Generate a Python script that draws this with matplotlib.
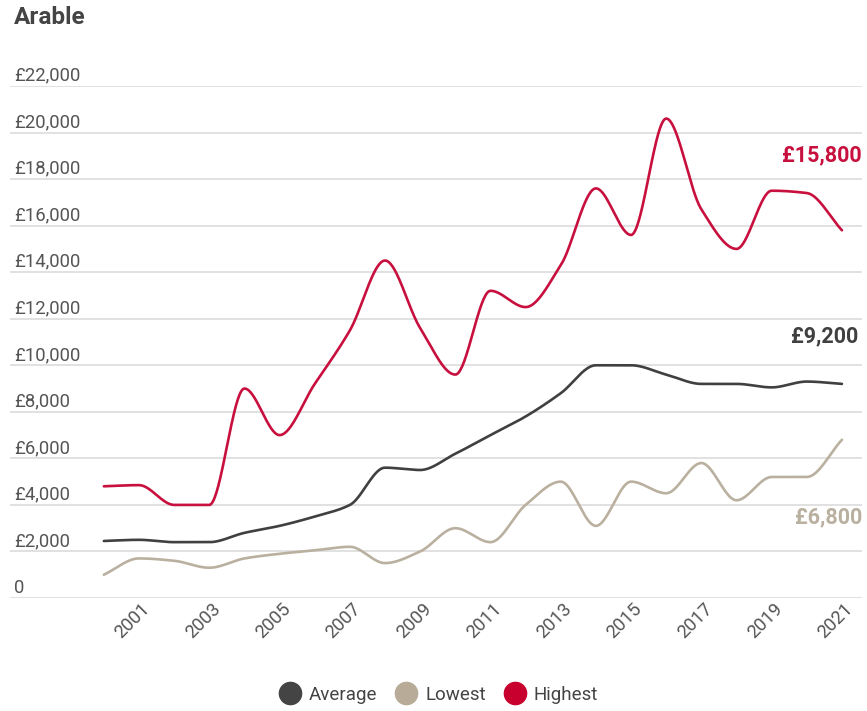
import numpy as np
import matplotlib
matplotlib.use("Agg")
import matplotlib.pyplot as plt
from matplotlib.lines import Line2D
from matplotlib import transforms

plt.rcParams['font.family'] = ['Roboto', 'DejaVu Sans']

years = list(range(2000, 2022))
highest = [4800, 4850, 4000, 4000, 9000, 7000, 9200, 11500, 14500, 11600, 9600,
           13200, 12500, 14300, 17600, 15600, 20600, 16700, 15000, 17500, 17400, 15800]
average = [2450, 2500, 2400, 2400, 2800, 3100, 3500, 4000, 5600, 5500, 6200,
           7000, 7800, 8800, 10000, 10000, 9600, 9200, 9200, 9050, 9300, 9200]
lowest = [1000, 1700, 1600, 1300, 1700, 1900, 2050, 2200, 1500, 2000, 3000,
          2400, 4000, 5000, 3100, 5000, 4500, 5800, 4200, 5200, 5200, 6800]
yticks = list(range(0, 22001, 2000))
xticks = list(range(2001, 2022, 2))

c_high = "#c8103e"
c_avg = "#404040"
c_low = "#bab09f"


def pchip(x, y, xs):
    # monotone cubic (Fritsch-Carlson) for the smooth line look
    x = np.asarray(x, float)
    y = np.asarray(y, float)
    h = np.diff(x)
    d = np.diff(y) / h
    m = np.zeros_like(y)
    m[0], m[-1] = d[0], d[-1]
    for i in range(1, len(y) - 1):
        if d[i - 1] * d[i] > 0:
            w1 = 2 * h[i] + h[i - 1]
            w2 = h[i] + 2 * h[i - 1]
            m[i] = (w1 + w2) / (w1 / d[i - 1] + w2 / d[i])
    idx = np.clip(np.searchsorted(x, xs) - 1, 0, len(x) - 2)
    t = (xs - x[idx]) / h[idx]
    h00 = 2 * t**3 - 3 * t**2 + 1
    h10 = t**3 - 2 * t**2 + t
    h01 = -2 * t**3 + 3 * t**2
    h11 = t**3 - t**2
    return h00 * y[idx] + h10 * h[idx] * m[idx] + h01 * y[idx + 1] + h11 * h[idx] * m[idx + 1]


fig = plt.figure(figsize=(8.67, 7.11), dpi=100)
W, H = 867, 711
ax = fig.add_axes([10 / W, 1 - 598 / H, 852 / W, 512 / H])

xs = np.linspace(years[0], years[-1], 800)
for vals, col in [(lowest, c_low), (average, c_avg), (highest, c_high)]:
    ax.plot(xs, pchip(years, vals, xs), color=col, lw=1.9, solid_capstyle='round', zorder=3)

ax.set_xlim(1997.33, 2021.57)
ax.set_ylim(0, 22000)
for s in ax.spines.values():
    s.set_visible(False)
ax.set_yticks(yticks)
ax.set_yticklabels([])
ax.grid(axis='y', color='#dcdcdc', lw=1.2, zorder=0)
ax.tick_params(length=0)

for v in yticks:
    lab = "0" if v == 0 else "£{:,}".format(v)
    ax.annotate(lab, xy=(0.005, v), xycoords=('axes fraction', 'data'),
                xytext=(0, 1), textcoords='offset points',
                ha='left', va='bottom', fontsize=13.3, color='#555555')

ax.set_xticks(xticks)
ax.set_xticklabels([str(y) for y in xticks], fontsize=13.3, color='#555555')
off = transforms.ScaledTranslation(6 / 72, -2 / 72, fig.dpi_scale_trans)
for lab in ax.get_xticklabels():
    lab.set_rotation(45)
    lab.set_ha('right')
    lab.set_va('center')
    lab.set_rotation_mode('anchor')
    lab.set_transform(lab.get_transform() + off)

fig.text(14 / W, 1 - 18 / H, "Arable", fontsize=17.5, fontweight='bold',
         color='#444444', ha='left', va='center')

ax.annotate("£15,800", xy=(862 / W, 1 - 155 / H), xycoords='figure fraction',
            ha='right', va='center', fontsize=15.5, fontweight='bold', color=c_high)
ax.annotate("£9,200", xy=(858 / W, 1 - 336 / H), xycoords='figure fraction',
            ha='right', va='center', fontsize=15.5, fontweight='bold', color=c_avg)
ax.annotate("£6,800", xy=(862 / W, 1 - 517 / H), xycoords='figure fraction',
            ha='right', va='center', fontsize=15.5, fontweight='bold', color=c_low)

handles = [Line2D([], [], ls='none', marker='o', ms=16, color=c, mec=c)
           for c in ["#444444", "#b8ab98", "#c8002e"]]
fig.legend(handles, ["Average", "Lowest", "Highest"], loc='center',
           bbox_to_anchor=(438 / W, 1 - 695 / H), ncol=3, frameon=False,
           fontsize=13.5, labelcolor='#444444', handletextpad=0.35,
           columnspacing=0.9, handlelength=1.3)

fig.savefig("out.png", dpi=100)
